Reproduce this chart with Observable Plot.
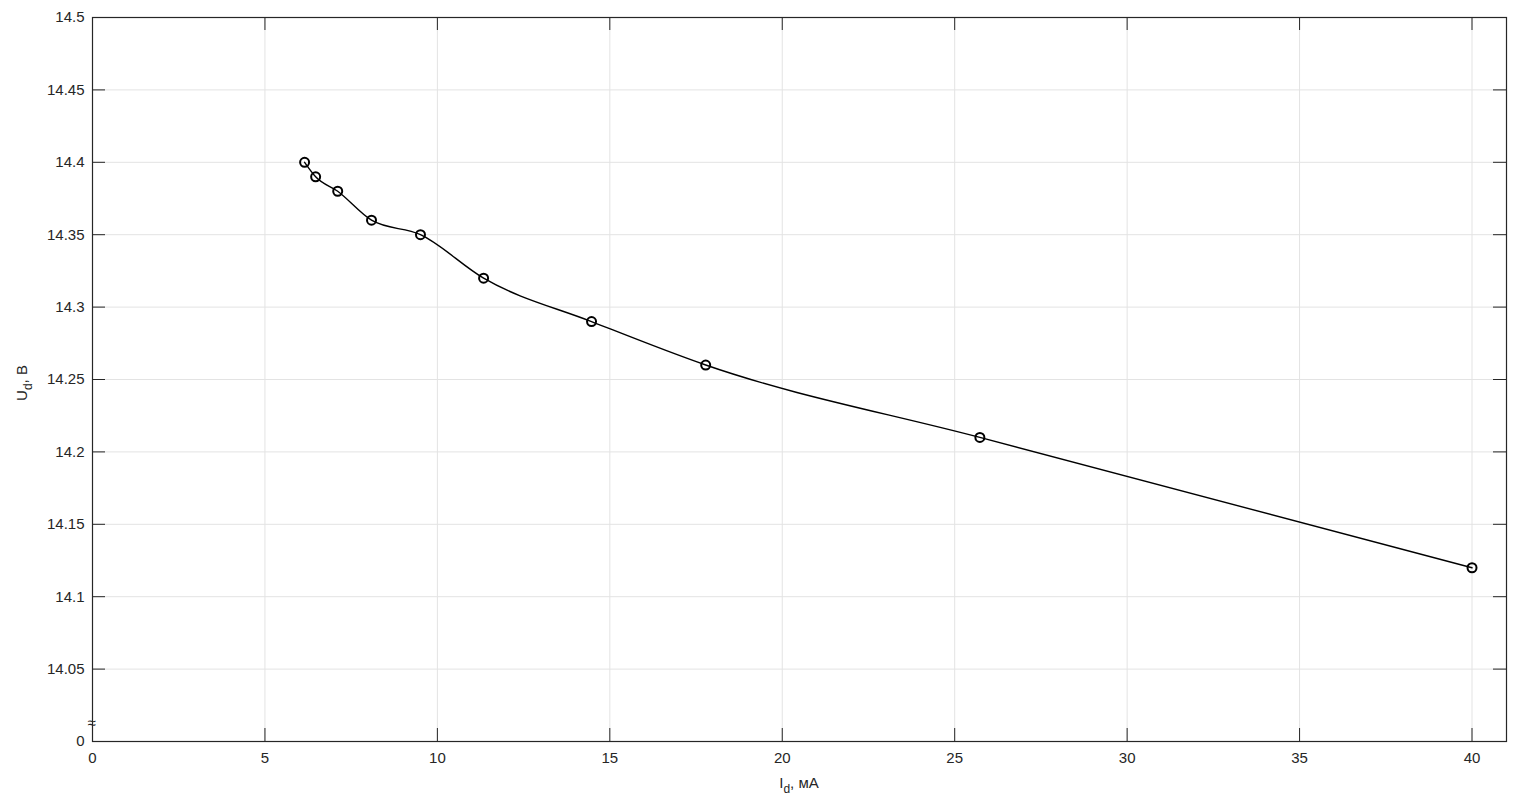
<!DOCTYPE html>
<html>
<head>
<meta charset="utf-8">
<script src="https://cdn.jsdelivr.net/npm/d3@7"></script>
<script src="https://cdn.jsdelivr.net/npm/@observablehq/plot@0.6"></script>
<style>
  html, body { margin: 0; padding: 0; background: #fff; }
  #chart { width: 1516px; height: 804px; }
</style>
</head>
<body>
<div id="chart"></div>
<script>
// Data
const currentMA = [6.15, 6.47, 7.11, 8.09, 9.51, 11.34, 14.47, 17.78, 25.73, 40.0];
const voltageV  = [14.40, 14.39, 14.38, 14.36, 14.35, 14.32, 14.29, 14.26, 14.21, 14.12];
const xTicks = [0, 5, 10, 15, 20, 25, 30, 35, 40];
const yTicks = [14.0, 14.05, 14.1, 14.15, 14.2, 14.25, 14.3, 14.35, 14.4, 14.45, 14.5];
const xLabelMain = "I", xLabelSub = "d", xLabelRest = ", мА";
const yLabelMain = "U", yLabelSub = "d", yLabelRest = ", В";
const breakMark = "≈";
const breakValue = 14.0125;

const data = currentMA.map((x, i) => ({x, y: voltageV[i]}));

const W = 1516, H = 804;
const mL = 92, mT = 17, mR = 10, mB = 63;
const pW = W - mL - mR, pH = H - mT - mB;
const tick = 13;
const axisColor = "#262626";
const gridColor = "#e3e3e3";
const font = "Liberation Sans, Arial, Helvetica, sans-serif";

const gridX = xTicks.filter(d => d > 0 && d < 41);
const gridY = yTicks.filter(d => d > 14 && d < 14.5);

const chart = Plot.plot({
  width: W, height: H,
  marginLeft: mL, marginTop: mT, marginRight: mR, marginBottom: mB,
  style: {fontFamily: font, fontSize: "15px", color: axisColor, background: "#fff"},
  x: {domain: [0, 41]},
  y: {domain: [14.0, 14.5]},
  marks: [
    Plot.ruleX(gridX, {stroke: gridColor, strokeWidth: 1}),
    Plot.ruleY(gridY, {stroke: gridColor, strokeWidth: 1}),
    // inward ticks on all four sides
    Plot.ruleX(xTicks, {insetTop: pH - tick, stroke: axisColor}),
    Plot.ruleX(xTicks, {insetBottom: pH - tick, stroke: axisColor}),
    Plot.ruleY(yTicks, {insetRight: pW - tick, stroke: axisColor}),
    Plot.ruleY(yTicks, {insetLeft: pW - tick, stroke: axisColor}),
    Plot.frame({stroke: axisColor, strokeWidth: 1.2}),
    Plot.axisX(xTicks, {tickSize: 0, tickPadding: 11, label: null, fill: axisColor, fontSize: 15}),
    Plot.axisY(yTicks, {tickSize: 0, tickPadding: 8, label: null, fill: axisColor, fontSize: 15,
      tickFormat: d => d === 14 ? "0" : String(+d.toFixed(2))}),
    Plot.text([breakValue], {x: 0, y: d => d, text: () => breakMark, fontSize: 15, fill: axisColor, dx: -1}),
    Plot.line(data, {x: "x", y: "y", curve: "monotone-x", stroke: "#000", strokeWidth: 1.4}),
    Plot.dot(data, {x: "x", y: "y", r: 4.5, stroke: "#000", strokeWidth: 2, fill: "none"})
  ]
});

// Axis titles with subscripts
const svg = d3.select(chart);
const xt = svg.append("text")
  .attr("x", mL + pW / 2).attr("y", 788)
  .attr("text-anchor", "middle")
  .attr("font-family", font).attr("font-size", 15).attr("fill", axisColor);
xt.append("tspan").text(xLabelMain);
xt.append("tspan").attr("dy", 5).attr("font-size", 12).text(xLabelSub);
xt.append("tspan").attr("dy", -5).text(xLabelRest);

const yt = svg.append("text")
  .attr("transform", `translate(27, ${mT + pH / 2 + 4}) rotate(-90)`)
  .attr("text-anchor", "middle")
  .attr("font-family", font).attr("font-size", 15).attr("fill", axisColor);
yt.append("tspan").text(yLabelMain);
yt.append("tspan").attr("dy", 5).attr("font-size", 12).text(yLabelSub);
yt.append("tspan").attr("dy", -5).text(yLabelRest);

document.getElementById("chart").append(chart);
</script>
</body>
</html>
